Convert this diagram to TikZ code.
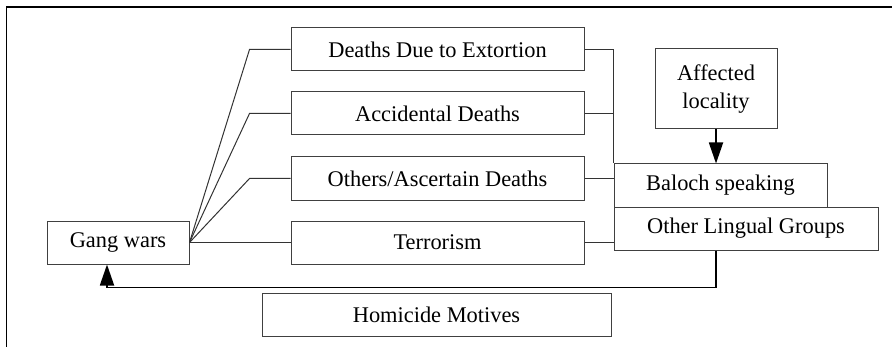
\documentclass[tikz,border=0pt]{standalone}
\usepackage{fontspec}
\setmainfont{Liberation Serif}
\usetikzlibrary{arrows.meta}

\begin{document}
\begin{tikzpicture}[x=0.5pt, y=-0.5pt, font=\fontsize{11.2}{14}\selectfont]
        \tikzstyle{box}=[draw=black!75, line width=0.5pt, minimum height=21.5pt, inner sep=0pt]
        \tikzstyle{link}=[draw=black!80, line width=0.5pt]
        \tikzstyle{arrow}=[-{Triangle[length=10.5pt,width=7pt]}, draw=black, line width=0.9pt]
        % Parameters
        \def\midX{437.5}
        \def\elbowSep{41}
        \def\loopDrop{37}

        \useasboundingbox (0,0) rectangle (892,347);
        % Frame
        \draw[line width=0.9pt] (892,7) -- (6.5,7) -- (6.5,347);

        % Source
        \node[box, minimum width=71pt] (G) at (118,242.5) {Gang wars};

        % Motive boxes
        \foreach \name/\y/\txt in {1/49.5/Deaths Due to Extortion, 2/113.5/Accidental Deaths, 3/178.5/{Others/Ascertain Deaths}, 4/242.5/Terrorism}
            \node[box, minimum width=146.5pt] (M-\name) at (\midX,\y) {\txt};

        % Locality and groups
        \node[box, minimum width=61pt, minimum height=40pt, align=center] (A) at (716,89) {Affected\\locality};
        \node[box, minimum width=106.5pt] (B) at (720.5,185.5) {Baloch speaking};
        \node[box, minimum width=132pt] (L) at (746,228.5) {Other Lingual Groups};

        % Caption box
        \node[box, minimum width=174.5pt] (H) at (436.5,314.5) {Homicide Motives};

        % Connect source to motives
        \foreach \name in {1,...,4}
            \draw[link] (M-\name.west) -- ++(-\elbowSep,0) -- (G.east);

        % Connect motives to groups
        \foreach \name in {1,...,4}
            \draw[link] (M-\name.east) -- (M-\name.east -| B.west);
        \draw[link] (M-1.east -| B.west) -- (B.north west);

        % Arrows
        \draw[arrow] (A.south) -- (A.south |- B.north);
        \draw[arrow] (A.south |- L.south) -- ++(0,\loopDrop) -| ([xshift=-5.5pt]G.south);
    \end{tikzpicture}
\end{document}
